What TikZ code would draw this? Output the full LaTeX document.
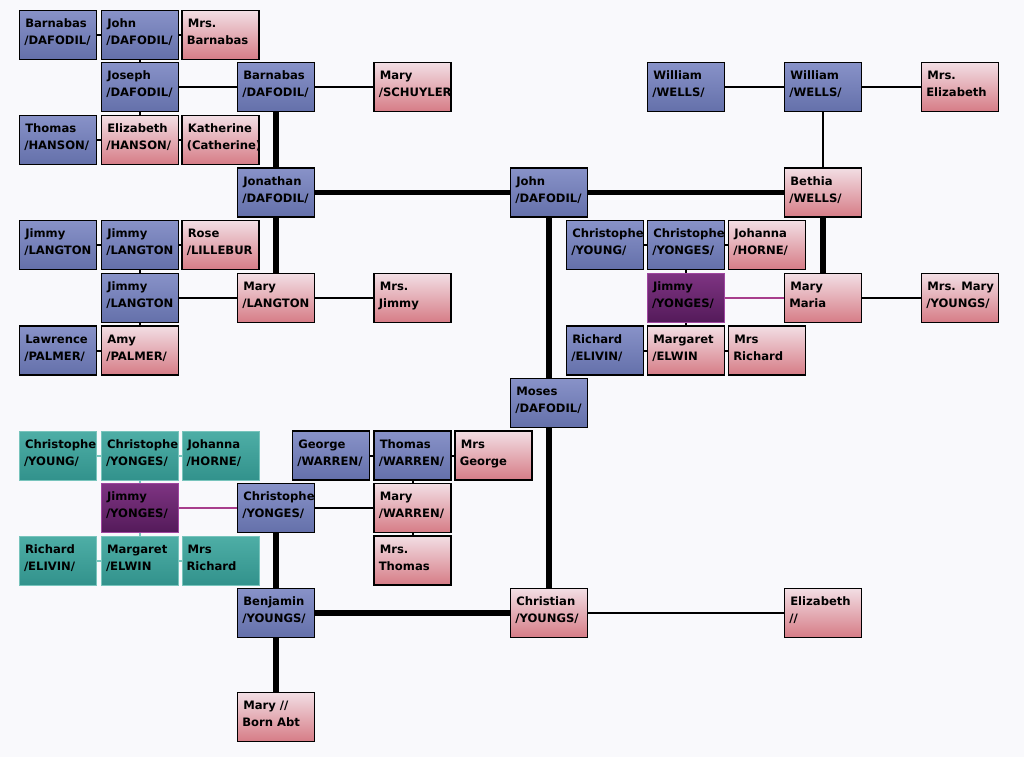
\documentclass[tikz,border=0pt]{standalone}
\usepackage{fontspec}
\setmainfont{DejaVu Sans}
\definecolor{bgc}{RGB}{249,249,252}
\definecolor{blueT}{RGB}{136,146,200}
\definecolor{blueB}{RGB}{100,112,170}
\definecolor{pinkT}{RGB}{242,222,228}
\definecolor{pinkB}{RGB}{214,124,134}
\definecolor{tealT}{RGB}{78,174,166}
\definecolor{tealB}{RGB}{50,146,140}
\definecolor{tealD}{RGB}{120,196,188}
\definecolor{purT}{RGB}{126,52,130}
\definecolor{purB}{RGB}{84,26,90}
\definecolor{purD}{RGB}{160,70,160}
\definecolor{purL}{RGB}{168,62,140}
\tikzset{
  box/.style={rectangle, minimum width=77pt, minimum height=49pt, inner sep=0pt},
  bl/.style={box, draw=black, line width=1.6pt, top color=blueT, bottom color=blueB},
  pk/.style={box, draw=black, line width=1.6pt, top color=pinkT, bottom color=pinkB},
  tl/.style={box, draw=tealD, line width=1pt, top color=tealT, bottom color=tealB},
  pu/.style={box, draw=purD, line width=1pt, top color=purT, bottom color=purB},
  txt/.style={minimum width=0pt, minimum height=0pt, draw=none, fill=none,
    inner sep=0pt, anchor=base west, font=\bfseries\fontsize{11.6}{13}\selectfont, text=black},
  lnA/.style={line width=2.4pt, black},
  lnB/.style={line width=5.5pt, black},
  lnP/.style={line width=2.4pt, purL},
  stub/.style={line width=2pt, black},
  stubT/.style={line width=2pt, tealD}
}
\newcommand\pers[6]{%
  \node[#2, path picture={
    \node[txt] (#1-a) at ([shift={(5,17)}]path picture bounding box.north west) {#5};
    \node[txt] (#1-b) at ([shift={(4,34)}]path picture bounding box.north west) {#6};
  }] (#1) at (#3,#4) {};}
\begin{document}
\begin{tikzpicture}[x=1pt,y=-1pt]
\useasboundingbox (0,0) rectangle (1024,768);
\fill[bgc] (0,0) rectangle (1024,757);
% row 1
\pers{a1}{bl}{58}{35}{Barnabas}{/DAFODIL/}
\pers{b1}{bl}{140}{35}{John}{/DAFODIL/}
\pers{c1}{pk}{220.5}{35}{Mrs.}{Barnabas}
% row 2
\pers{b2}{bl}{140}{87}{Joseph}{/DAFODIL/}
\pers{d2}{bl}{276}{87}{Barnabas}{/DAFODIL/}
\pers{e2}{pk}{412.5}{87}{Mary}{/SCHUYLER}
\pers{l2}{bl}{686}{87}{William}{/WELLS/}
\pers{n2}{bl}{823}{87}{William}{/WELLS/}
\pers{o2}{pk}{960}{87}{Mrs.}{Elizabeth}
% row 3
\pers{a3}{bl}{58}{140}{Thomas}{/HANSON/}
\pers{b3}{pk}{140}{140}{Elizabeth}{/HANSON/}
\pers{c3}{pk}{220.5}{140}{Katherine}{(Catherine)}
% row 4
\pers{d4}{bl}{276}{192.5}{Jonathan}{/DAFODIL/}
\pers{j4}{bl}{549}{192.5}{John}{/DAFODIL/}
\pers{n4}{pk}{823}{192.5}{Bethia}{/WELLS/}
% row 5
\pers{a5}{bl}{58}{245}{Jimmy}{/LANGTON}
\pers{b5}{bl}{140}{245}{Jimmy}{/LANGTON}
\pers{c5}{pk}{220.5}{245}{Rose}{/LILLEBUR}
\pers{k5}{bl}{605}{245}{Christophe}{/YOUNG/}
\pers{l5}{bl}{686}{245}{Christophe}{/YONGES/}
\pers{m5}{pk}{767}{245}{Johanna}{/HORNE/}
% row 6
\pers{b6}{bl}{140}{298}{Jimmy}{/LANGTON}
\pers{d6}{pk}{276}{298}{Mary}{/LANGTON}
\pers{e6}{pk}{412.5}{298}{Mrs.}{Jimmy}
\pers{l6}{pu}{686}{298}{Jimmy}{/YONGES/}
\pers{n6}{pk}{823}{298}{Mary}{Maria}
\pers{o6}{pk}{960}{298}{Mrs. Mary}{/YOUNGS/}
% row 7
\pers{a7}{bl}{58}{350.5}{Lawrence}{/PALMER/}
\pers{b7}{pk}{140}{350.5}{Amy}{/PALMER/}
\pers{k7}{bl}{605}{350.5}{Richard}{/ELIVIN/}
\pers{l7}{pk}{686}{350.5}{Margaret}{/ELWIN}
\pers{m7}{pk}{767}{350.5}{Mrs}{Richard}
% row 8
\pers{j8}{bl}{549}{403}{Moses}{/DAFODIL/}
% row 9
\pers{a9}{tl}{58}{455.5}{Christophe}{/YOUNG/}
\pers{b9}{tl}{140}{455.5}{Christophe}{/YONGES/}
\pers{c9}{tl}{220.5}{455.5}{Johanna}{/HORNE/}
\pers{g9}{bl}{331}{455.5}{George}{/WARREN/}
\pers{e9}{bl}{412.5}{455.5}{Thomas}{/WARREN/}
\pers{f9}{pk}{493.5}{455.5}{Mrs}{George}
% row 10
\pers{b10}{pu}{140}{508}{Jimmy}{/YONGES/}
\pers{d10}{bl}{276}{508}{Christophe}{/YONGES/}
\pers{e10}{pk}{412.5}{508}{Mary}{/WARREN/}
% row 11
\pers{a11}{tl}{58}{560.5}{Richard}{/ELIVIN/}
\pers{b11}{tl}{140}{560.5}{Margaret}{/ELWIN}
\pers{c11}{tl}{220.5}{560.5}{Mrs}{Richard}
\pers{e11}{pk}{412.5}{560.5}{Mrs.}{Thomas}
% row 12
\pers{d12}{bl}{276}{613}{Benjamin}{/YOUNGS/}
\pers{j12}{pk}{549}{613}{Christian}{/YOUNGS/}
\pers{n12}{pk}{823}{613}{Elizabeth}{//}
% row 13
\pers{d13}{pk}{276}{717}{Mary //}{Born Abt}
% stubs
\draw[stub] (a1.east) -- (b1.west);
\draw[stub] (b1.east) -- (c1.west);
\draw[stub] (b1.south) -- (b2.north);
\draw[stub] (b2.south) -- (b3.north);
\draw[stub] (a3.east) -- (b3.west);
\draw[stub] (b3.east) -- (c3.west);
\draw[stub] (a5.east) -- (b5.west);
\draw[stub] (b5.east) -- (c5.west);
\draw[stub] (b5.south) -- (b6.north);
\draw[stub] (b6.south) -- (b7.north);
\draw[stub] (a7.east) -- (b7.west);
\draw[stub] (k5.east) -- (l5.west);
\draw[stub] (l5.east) -- (m5.west);
\draw[stub] (l5.south) -- (l6.north);
\draw[stub] (l6.south) -- (l7.north);
\draw[stub] (k7.east) -- (l7.west);
\draw[stub] (l7.east) -- (m7.west);
\draw[stub] (g9.east) -- (e9.west);
\draw[stub] (e9.east) -- (f9.west);
\draw[stub] (e9.south) -- (e10.north);
\draw[stub] (e10.south) -- (e11.north);
\draw[stubT] (a9.east) -- (b9.west);
\draw[stubT] (b9.east) -- (c9.west);
\draw[stubT] (b9.south) -- (b10.north);
\draw[stubT] (b10.south) -- (b11.north);
\draw[stubT] (a11.east) -- (b11.west);
\draw[stubT] (b11.east) -- (c11.west);
% connectors
\draw[lnA] (b2.east) -- (d2.west);
\draw[lnA] (d2.east) -- (e2.west);
\draw[lnB] (d2.south) -- (d4.north);
\draw[lnB] (d4.east) -- (j4.west);
\draw[lnB] (j4.east) -- (n4.west);
\draw[lnA] (l2.east) -- (n2.west);
\draw[lnA] (n2.east) -- (o2.west);
\draw[lnA] (n2.south) -- (n4.north);
\draw[lnB] (n4.south) -- (n6.north);
\draw[lnP] (l6.east) -- (n6.west);
\draw[lnA] (n6.east) -- (o6.west);
\draw[lnB] (d4.south) -- (d6.north);
\draw[lnA] (b6.east) -- (d6.west);
\draw[lnA] (d6.east) -- (e6.west);
\draw[lnB] (j4.south) -- (j8.north);
\draw[lnB] (j8.south) -- (j12.north);
\draw[lnP] (b10.east) -- (d10.west);
\draw[lnA] (d10.east) -- (e10.west);
\draw[lnB] (d10.south) -- (d12.north);
\draw[lnB] (d12.east) -- (j12.west);
\draw[lnA] (j12.east) -- (n12.west);
\draw[lnB] (d12.south) -- (d13.north);
\end{tikzpicture}
\end{document}
